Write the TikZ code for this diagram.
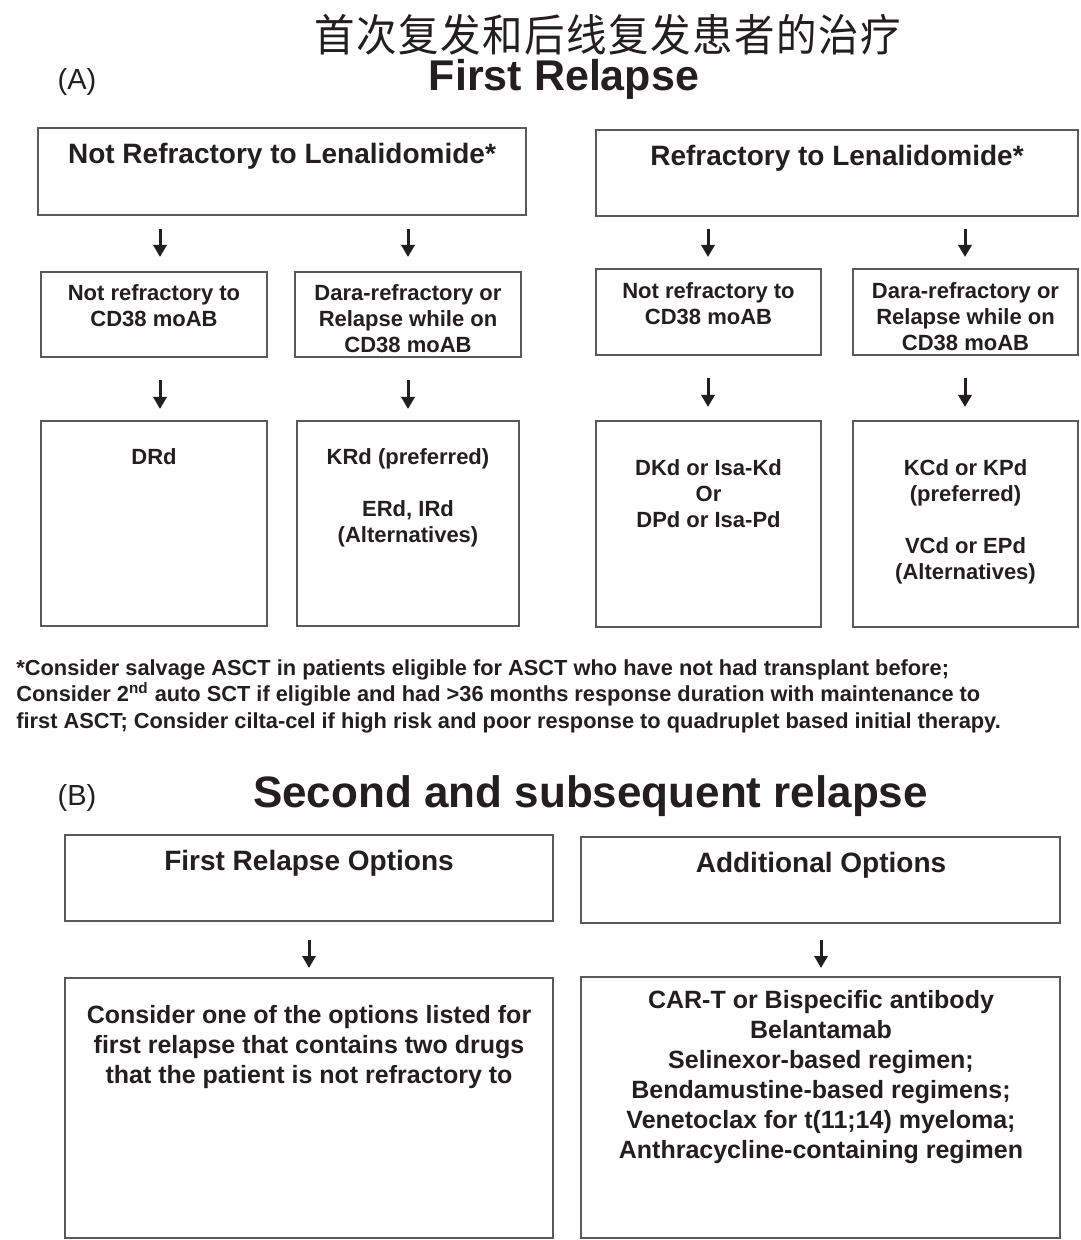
\documentclass[tikz,border=0pt]{standalone}
\usepackage{fontspec}
\setmainfont{Liberation Sans}
\newfontfamily\cjk[FakeStretch=0.92]{Noto Sans CJK SC}
\usetikzlibrary{arrows.meta}
\definecolor{ink}{HTML}{231F20}
\definecolor{edge}{HTML}{5A5A5A}
\tikzset{
  box/.style={draw=edge, line width=1pt, inner sep=0pt},
  hdr/.style={font=\bfseries\fontsize{14}{17}\selectfont, text=ink, anchor=north, inner sep=0pt, align=center},
  txt/.style={font=\bfseries\fontsize{11}{13}\selectfont, text=ink, anchor=north, inner sep=0pt, align=center},
  bigtxt/.style={font=\bfseries\fontsize{12.5}{15}\selectfont, text=ink, anchor=north, inner sep=0pt, align=center},
  arr/.style={-{Triangle[width=6.5pt,length=6pt]}, line width=1.5pt, draw=ink},
}
\newcommand\mybox[5]{\node[box, minimum width={(#4-#2)*0.5pt}, minimum height={(#5-#3)*0.5pt}] (#1) at ({(#2+#4)/2},{(#3+#5)/2}) {};}
\newcommand\myarrow[4]{\coordinate (#1s) at (#2,#3); \coordinate (#1e) at (#2,#4); \draw[arr] (#1s) -- (#1e);}
\begin{document}
\begin{tikzpicture}[x=0.5pt,y=-0.5pt]
\useasboundingbox (0,0) rectangle (1080,1240);
\fill[white] (0,0) rectangle (1080,1240);

% titles
\node[font=\cjk\fontsize{22}{26}\selectfont\addfontfeature{LetterSpace=3.5}, text=ink] (cn) at (608,35) {首次复发和后线复发患者的治疗};
\node[font=\bfseries\fontsize{21.5}{24}\selectfont, text=ink, anchor=base] (t1) at (564,91) {First Relapse};
\node[font=\fontsize{14.5}{17}\selectfont, text=ink, anchor=base] (la) at (77,90) {(A)};

% panel A boxes
\mybox{hl}{38}{128}{526}{215}
\mybox{hr}{596}{130}{1078}{216}
\mybox{ml1}{41}{272}{267}{357}
\mybox{ml2}{295}{272}{521}{357}
\mybox{mr1}{596}{269}{821}{355}
\mybox{mr2}{853}{269}{1078}{355}
\mybox{bl1}{41}{421}{267}{626}
\mybox{bl2}{297}{421}{519}{626}
\mybox{br1}{596}{421}{821}{627}
\mybox{br2}{853}{421}{1078}{627}

\node[hdr] (hlt) at (282,143) {Not Refractory to Lenalidomide*};
\node[hdr] (hrt) at (837,145) {Refractory to Lenalidomide*};
\node[txt] (ml1t) at (154,284) {Not refractory to\\CD38 moAB};
\node[txt] (ml2t) at (408,284) {Dara-refractory or\\Relapse while on\\CD38 moAB};
\node[txt] (mr1t) at (708.5,282) {Not refractory to\\CD38 moAB};
\node[txt] (mr2t) at (965.5,282) {Dara-refractory or\\Relapse while on\\CD38 moAB};
\node[txt] (bl1t) at (154,448) {DRd};
\node[txt] (bl2t) at (408,448) {KRd (preferred)\\[13pt]ERd, IRd\\(Alternatives)};
\node[txt] (br1t) at (708.5,459) {DKd or Isa-Kd\\Or\\DPd or Isa-Pd};
\node[txt] (br2t) at (965.5,459) {KCd or KPd\\(preferred)\\[13pt]VCd or EPd\\(Alternatives)};

% panel A arrows
\myarrow{a1}{160}{229}{257}
\myarrow{a2}{408}{229}{257}
\myarrow{a3}{708}{229}{257}
\myarrow{a4}{965}{229}{257}
\myarrow{a5}{160}{380}{409}
\myarrow{a6}{408}{380}{409}
\myarrow{a7}{708}{378}{407}
\myarrow{a8}{965}{378}{407}

% footnote
\node[anchor=north west, inner sep=0pt, align=left, text=ink, font=\bfseries\fontsize{10.9}{13.25}\selectfont] (fn) at (16,659)
{*Consider salvage ASCT in patients eligible for ASCT who have not had transplant before;\\
Consider 2\textsuperscript{nd} auto SCT if eligible and had >36 months response duration with maintenance to\\
first ASCT; Consider cilta-cel if high risk and poor response to quadruplet based initial therapy.};

% panel B
\node[font=\fontsize{14.5}{17}\selectfont, text=ink, anchor=base] (lb) at (77,805) {(B)};
\node[font=\bfseries\fontsize{22}{26}\selectfont, text=ink, anchor=base] (t2) at (590.5,807) {Second and subsequent relapse};

\mybox{b1}{65}{835}{553}{921}
\mybox{b2}{581}{837}{1060}{923}
\mybox{b3}{65}{978}{553}{1238}
\mybox{b4}{581}{977}{1060}{1238}

\node[hdr] (b1t) at (309,850) {First Relapse Options};
\node[hdr] (b2t) at (821,852) {Additional Options};
\node[bigtxt] (b3t) at (309,1005) {Consider one of the options listed for\\first relapse that contains two drugs\\that the patient is not refractory to};
\node[bigtxt] (b4t) at (821,990) {CAR-T or Bispecific antibody\\Belantamab\\Selinexor-based regimen;\\Bendamustine-based regimens;\\Venetoclax for t(11;14) myeloma;\\Anthracycline-containing regimen};

\myarrow{a9}{309}{940}{968}
\myarrow{a10}{821}{940}{968}
\end{tikzpicture}
\end{document}
